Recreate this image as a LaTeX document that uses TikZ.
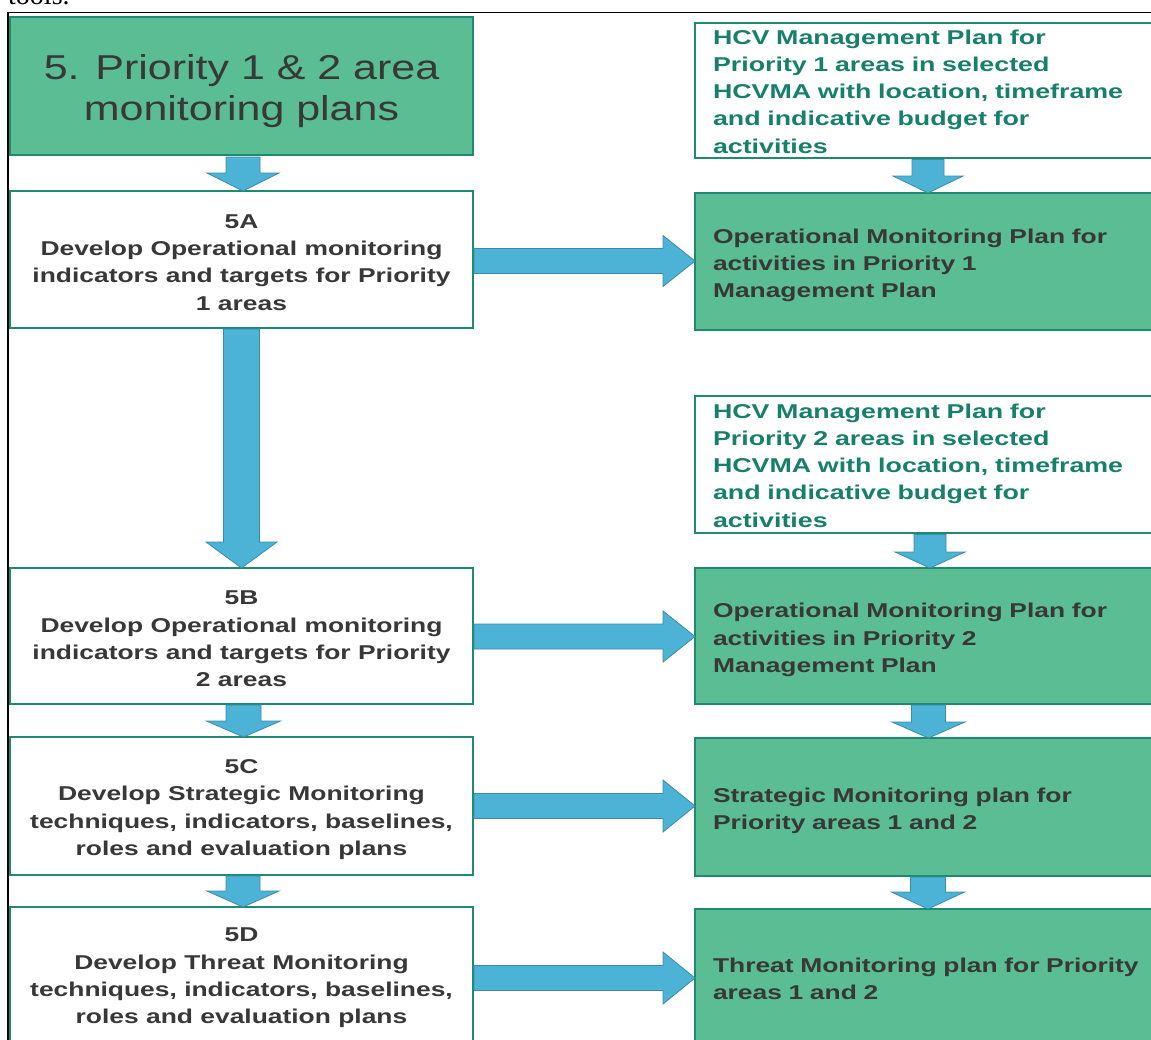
\documentclass[tikz,border=0pt]{standalone}
\usepackage{fontspec}
\setmainfont{Liberation Sans}
\newfontfamily\titlefont{Liberation Sans}[FakeStretch=1.245]
\newfontfamily\labelfont{Liberation Sans}[FakeStretch=1.32]
\newfontfamily\hcvfont{Liberation Sans}[FakeStretch=1.34]
\newfontfamily\serifnote{Liberation Serif}
\usetikzlibrary{calc}

\definecolor{boxgreen}{HTML}{5BBD93}
\definecolor{boxedge}{HTML}{1E8A70}
\definecolor{arrowblue}{HTML}{4DB3D6}
\definecolor{arrowedge}{HTML}{3A8CAA}
\definecolor{inkgray}{HTML}{383838}
\definecolor{tealtext}{HTML}{17806B}

\tikzset{
  basebox/.style={draw=boxedge, line width=1.6pt, inner sep=0pt, outer sep=0pt},
  leftbox/.style={basebox, minimum width=463pt},
  rightbox/.style={basebox, minimum width=470pt},
  steptext/.style={inner sep=0pt, align=center, text=inkgray,
    font=\labelfont\bfseries\fontsize{20}{27.3}\selectfont},
  titletext/.style={inner sep=0pt, align=center, text=inkgray,
    font=\titlefont\fontsize{34.5}{41}\selectfont},
  plantext/.style={inner sep=0pt, text width=434pt, align=left, text=inkgray,
    font=\labelfont\bfseries\fontsize{20}{27.3}\selectfont},
  hcvtext/.style={plantext, text=tealtext, font=\hcvfont\bfseries\fontsize{20}{27.3}\selectfont},
  blockarrow/.style={fill=arrowblue, draw=arrowedge, line width=0.8pt, line join=miter}
}

% downward block arrow: start, end, shaft half-width, head half-width, head length
\newcommand\downblock[5]{%
  \draw[blockarrow] let \p1=#1, \p2=#2 in
    (\x1-#3,\y1) -- (\x1+#3,\y1) -- (\x1+#3,\y2+#5) -- (\x1+#4,\y2+#5)
    -- (\x1,\y2) -- (\x1-#4,\y2+#5) -- (\x1-#3,\y2+#5) -- cycle;}
% rightward block arrow: start, end, shaft half-width, head half-width, head length
\newcommand\rightblock[5]{%
  \draw[blockarrow] let \p1=#1, \p2=#2 in
    (\x1,\y1+#3) -- (\x2-#5,\y1+#3) -- (\x2-#5,\y1+#4) -- (\x2,\y1)
    -- (\x2-#5,\y1-#4) -- (\x2-#5,\y1-#3) -- (\x1,\y1-#3) -- cycle;}

\begin{document}
\begin{tikzpicture}[x=1pt,y=-1pt]
\useasboundingbox (0,0) rectangle (1151,1039);
\clip (0,0) rectangle (1151,1039);
\fill[white] (0,0) rectangle (1151,1039);

% preceding text line and frame
\node[anchor=base west, inner sep=0pt, font=\serifnote\fontsize{28}{28}\selectfont] (tools) at (8,4) {tools.};
\draw[black, line width=1.4pt] (8,1050) -- (8,12.7) -- (1165,12.7);

% left column boxes
\node[leftbox, fill=boxgreen, minimum height=138pt] (title) at (241.5,86) {};
\node[leftbox, fill=white, minimum height=137pt] (s5A) at (241.5,259.5) {};
\node[leftbox, fill=white, minimum height=136pt] (s5B) at (241.5,636) {};
\node[leftbox, fill=white, minimum height=138pt] (s5C) at (241.5,806) {};
\node[leftbox, fill=white, minimum height=138pt] (s5D) at (241.5,976) {};

% right column boxes
\node[rightbox, fill=white, minimum height=135pt] (hcv1) at (930,90.5) {};
\node[rightbox, fill=boxgreen, minimum height=137pt] (op1) at (930,261.5) {};
\node[rightbox, fill=white, minimum height=137pt] (hcv2) at (930,464.5) {};
\node[rightbox, fill=boxgreen, minimum height=136pt] (op2) at (930,636) {};
\node[rightbox, fill=boxgreen, minimum height=138pt] (strat) at (930,807) {};
\node[rightbox, fill=boxgreen, minimum height=139pt] (threat) at (930,978.5) {};

% box texts
\node[titletext] (title-text) at ([yshift=-5pt]title.center) {5. Priority 1 \& 2 area\\monitoring plans};
\node[steptext] (s5A-text) at ([yshift=-3pt]s5A.center) {5A\\Develop Operational monitoring\\indicators and targets for Priority\\1 areas};
\node[steptext] (s5B-text) at ([yshift=-3pt]s5B.center) {5B\\Develop Operational monitoring\\indicators and targets for Priority\\2 areas};
\node[steptext] (s5C-text) at ([yshift=-3.5pt]s5C.center) {5C\\Develop Strategic Monitoring\\techniques, indicators, baselines,\\roles and evaluation plans};
\node[steptext] (s5D-text) at ([yshift=-2pt]s5D.center) {5D\\Develop Threat Monitoring\\techniques, indicators, baselines,\\roles and evaluation plans};
\node[hcvtext] (hcv1-text) at ([yshift=-1pt]hcv1.center) {HCV Management Plan for\\Priority 1 areas in selected\\HCVMA with location, timeframe\\and indicative budget for\\activities};
\node[plantext] (op1-text) at ([yshift=-4pt]op1.center) {Operational Monitoring Plan for\\activities in Priority 1\\Management Plan};
\node[hcvtext] (hcv2-text) at ([yshift=-1pt]hcv2.center) {HCV Management Plan for\\Priority 2 areas in selected\\HCVMA with location, timeframe\\and indicative budget for\\activities};
\node[plantext] (op2-text) at ([yshift=-4pt]op2.center) {Operational Monitoring Plan for\\activities in Priority 2\\Management Plan};
\node[plantext] (strat-text) at ([yshift=-4pt]strat.center) {Strategic Monitoring plan for\\Priority areas 1 and 2};
\node[plantext] (threat-text) at (threat.center) {Threat Monitoring plan for Priority\\areas 1 and 2};

% downward arrows
\downblock{([xshift=1.5pt,yshift=-2pt]title.south)}{([xshift=1.5pt]s5A.north)}{17pt}{36pt}{18pt}
\downblock{([xshift=-2pt,yshift=-1.5pt]hcv1.south)}{([xshift=-2pt]op1.north)}{16pt}{35pt}{17pt}
\downblock{([yshift=-1pt]s5A.south)}{(s5A.south |- s5B.north)}{18pt}{35.5pt}{26pt}
\downblock{([yshift=-1.5pt]hcv2.south)}{(hcv2.south |- op2.north)}{16pt}{35pt}{16pt}
\downblock{([xshift=2pt,yshift=-1pt]s5B.south)}{([xshift=2pt]s5C.north)}{17.5pt}{37pt}{16pt}
\downblock{([xshift=-1.5pt,yshift=-1pt]op2.south)}{([xshift=-1.5pt]strat.north)}{17pt}{36.5pt}{16pt}
\downblock{([xshift=1.5pt,yshift=-1pt]s5C.south)}{([xshift=1.5pt]s5D.north)}{17pt}{36pt}{16pt}
\downblock{([xshift=-2pt,yshift=-1pt]strat.south)}{([xshift=-2pt]threat.north)}{17.5pt}{36.5pt}{17pt}

% rightward arrows
\rightblock{([xshift=1pt,yshift=-1.5pt]s5A.east)}{(op1.west)}{12.5pt}{25.5pt}{32pt}
\rightblock{([xshift=1pt,yshift=-0.5pt]s5B.east)}{(op2.west)}{12.5pt}{25.5pt}{32pt}
\rightblock{([xshift=1pt]s5C.east)}{(strat.west)}{12.5pt}{26pt}{32pt}
\rightblock{([xshift=1pt,yshift=-2pt]s5D.east)}{(threat.west)}{12.5pt}{26pt}{32pt}
\end{tikzpicture}
\end{document}
